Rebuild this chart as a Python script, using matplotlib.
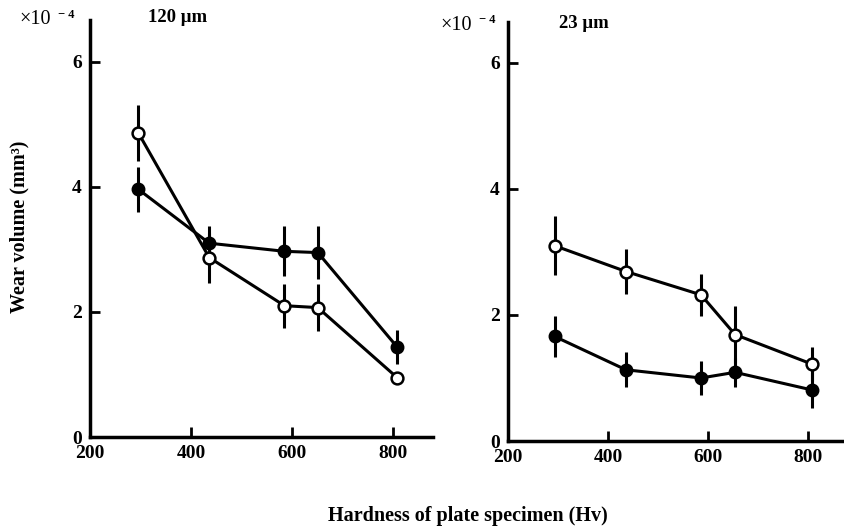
import matplotlib
matplotlib.use("Agg")
import matplotlib.pyplot as plt

# ---- data ----
hardness_120 = [296, 436, 585, 651, 808]
open_120 = [4.86, 2.87, 2.10, 2.07, 0.95]
open_120_err = [0.45, 0.40, 0.35, 0.38, 0.0]
filled_120 = [3.96, 3.10, 2.97, 2.95, 1.44]
filled_120_err = [0.36, 0.28, 0.40, 0.42, 0.27]

hardness_23 = [293, 436, 586, 654, 808]
open_23 = [3.10, 2.69, 2.32, 1.69, 1.22]
open_23_err = [0.47, 0.35, 0.33, 0.45, 0.27]
filled_23 = [1.66, 1.13, 1.00, 1.09, 0.81]
filled_23_err = [0.32, 0.28, 0.27, 0.23, 0.28]

xticks = [200, 400, 600, 800]
yticks = [0, 2, 4, 6]
titles = ["120 μm", "23 μm"]
scale_base = "×10"
scale_exp = "− 4"
ylabel = "Wear volume (mm³)"
xlabel = "Hardness of plate specimen (Hv)"

FONT = ["Liberation Serif", "DejaVu Serif"]

fig = plt.figure(figsize=(8.44, 5.29), dpi=100)
ax1 = fig.add_axes([90/844, 1-437/529, 343/844, 417/529])
ax2 = fig.add_axes([508/844, 1-441/529, 335/844, 419/529])

panels = [
    (ax1, hardness_120, open_120, open_120_err, filled_120, filled_120_err, (200, 879), 6.67),
    (ax2, hardness_23, open_23, open_23_err, filled_23, filled_23_err, (200, 870), 6.65),
]

for ax, hx, oy, oe, fy, fe, xl, ytop in panels:
    ax.errorbar(hx, fy, yerr=fe, fmt='none', ecolor='black', elinewidth=2.2, capsize=0, zorder=2)
    ax.errorbar(hx, oy, yerr=oe, fmt='none', ecolor='black', elinewidth=2.2, capsize=0, zorder=2)
    ax.plot(hx, fy, '-', color='black', lw=2.2, zorder=3)
    ax.plot(hx, oy, '-', color='black', lw=2.2, zorder=3)
    ax.plot(hx, fy, 'o', ms=8.5, mfc='black', mec='black', mew=1.5, ls='none', zorder=4)
    ax.plot(hx, oy, 'o', ms=8.5, mfc='white', mec='black', mew=1.8, ls='none', zorder=5)
    ax.set_xlim(*xl)
    ax.set_ylim(0, ytop)
    ax.set_xticks(xticks)
    ax.set_yticks(yticks)
    for s in ['top', 'right']:
        ax.spines[s].set_visible(False)
    for s in ['left', 'bottom']:
        ax.spines[s].set_linewidth(2.5)
    ax.tick_params(direction='in', length=7, width=2, pad=6)
    for lab in ax.get_xticklabels() + ax.get_yticklabels():
        lab.set_fontfamily(FONT)
        lab.set_fontweight('bold')
        lab.set_fontsize(14)

# scale labels and titles
for (x0, y0) in [(19, 20), (440, 25)]:
    fig.text(x0/844, 1-y0/529, scale_base, family=FONT, fontsize=14.5, va='center', ha='left')
    fig.text((x0+39)/844, 1-(y0-5)/529, scale_exp, family=FONT, fontsize=9, fontweight='bold', va='center', ha='left')
fig.text(148/844, 1-18/529, titles[0], family=FONT, fontsize=13.5, fontweight='bold', va='center', ha='left')
fig.text(559/844, 1-23/529, titles[1], family=FONT, fontsize=13.5, fontweight='bold', va='center', ha='left')

fig.text(19/844, 1-227/529, ylabel, family=FONT, fontsize=14.5, fontweight='bold', rotation=90, va='center', ha='center')
fig.text(468/844, 1-516/529, xlabel, family=FONT, fontsize=14.5, fontweight='bold', va='center', ha='center')

fig.savefig("out.png", dpi=100)
